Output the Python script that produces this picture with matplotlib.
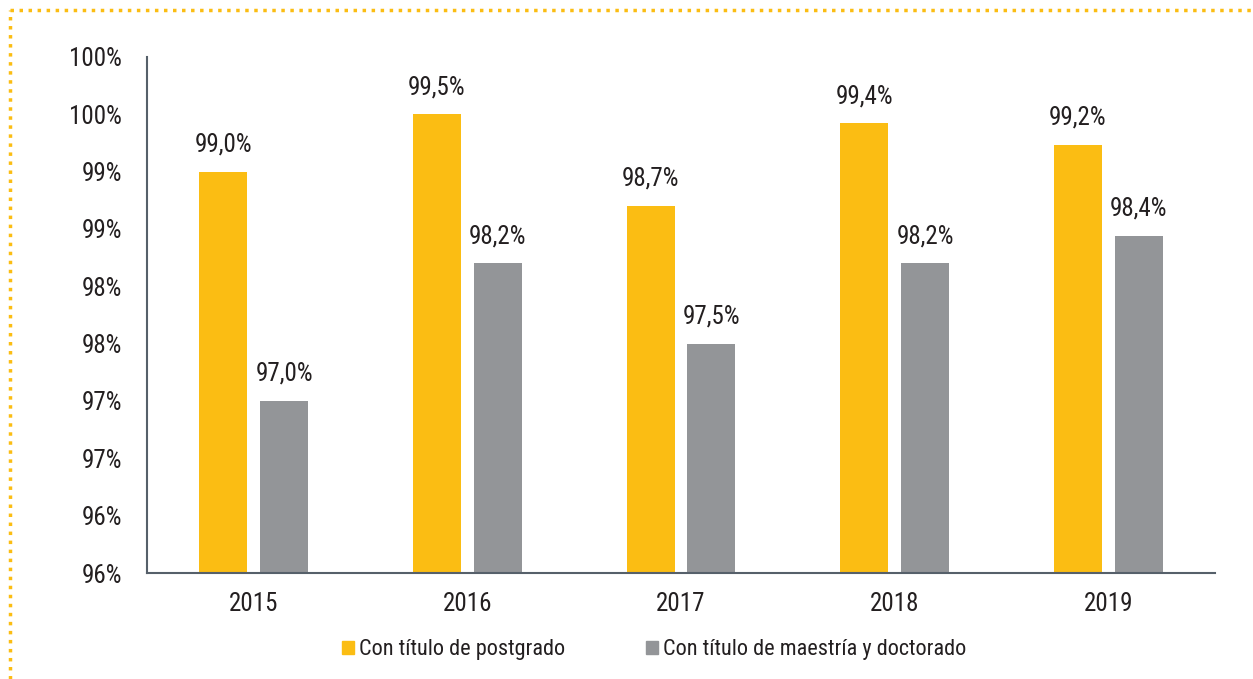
import matplotlib
matplotlib.use("Agg")
import matplotlib.pyplot as plt
from matplotlib import font_manager as fm
from matplotlib.ticker import FixedLocator, FuncFormatter
from matplotlib.lines import Line2D
from matplotlib.patches import Patch
import numpy as np

years = ["2015", "2016", "2017", "2018", "2019"]
postgrado = [99.0, 99.5, 98.7, 99.42, 99.23]
maestria = [97.0, 98.2, 97.5, 98.2, 98.44]
series_names = ["Con título de postgrado", "Con título de maestría y doctorado"]
y_ticks = [95.5, 96.0, 96.5, 97.0, 97.5, 98.0, 98.5, 99.0, 99.5, 100.0]

# pick a condensed font if available
cands = []
for f in fm.fontManager.ttflist:
    n = f.name.lower()
    fn = f.fname.lower()
    cond = ("narrow" in n or "condensed" in n or "narrow" in fn or "condensed" in fn
            or f.stretch in ("condensed", "semi-condensed", 500 - 125))
    if cond and f.style == "normal" and str(f.weight) in ("400", "normal", "regular", "book") \
            and "bold" not in fn and "light" not in fn and "oblique" not in fn and "italic" not in fn \
            and "semi" not in fn and "medium" not in fn and "thin" not in fn and "black" not in fn:
        cands.append(f)
chosen = None
for pref in ["liberationsansnarrow", "robotocondensed", "opensanscondensed", "notosanscondensed", "dejavusanscondensed"]:
    for f in cands:
        if pref in f.fname.lower().replace("-", "").replace("_", "").replace(" ", ""):
            chosen = f
            break
    if chosen:
        break
if chosen is None and cands:
    chosen = cands[0]
if chosen is not None:
    fm.fontManager.addfont(chosen.fname)
    fam = fm.FontProperties(fname=chosen.fname).get_name()
    plt.rcParams['font.family'] = [fam, 'DejaVu Sans']
    FP = fm.FontProperties(fname=chosen.fname, size=18)
    FPL = fm.FontProperties(fname=chosen.fname, size=16)
else:
    plt.rcParams['font.family'] = ['DejaVu Sans']
    FP = fm.FontProperties(family='DejaVu Sans', size=16)
    FPL = fm.FontProperties(family='DejaVu Sans', size=13)

YELLOW = "#FBBD13"
GRAY = "#939598"
TEXT = "#231F20"
AXC = "#56606A"

fig = plt.figure(figsize=(12.53, 6.79), dpi=100)
ax = fig.add_axes([0.1173, 0.1561, 0.8524, 0.76])

x = np.arange(len(years))
w = 0.225
off = (w + 0.06) / 2
ax.bar(x - off, postgrado, width=w, color=YELLOW)
ax.bar(x + off, maestria, width=w, color=GRAY)

for xs, vals in ((x - off, postgrado), (x + off, maestria)):
    for xi, v in zip(xs, vals):
        ax.annotate(f"{v:.1f}%".replace(".", ","), (xi, v), xytext=(0, 11), textcoords="offset points",
                    ha="center", va="bottom", color=TEXT, fontproperties=FP)

ax.set_xlim(-0.5, len(years) - 0.5)
ax.set_ylim(95.5, 100.0)
ax.yaxis.set_major_locator(FixedLocator(y_ticks))
ax.yaxis.set_major_formatter(FuncFormatter(lambda v, p: f"{int(np.floor(v + 0.5))}%"))
ax.set_xticks(x)
ax.set_xticklabels(years)
ax.tick_params(axis="both", length=0, colors=TEXT)
for lab in ax.get_xticklabels() + ax.get_yticklabels():
    lab.set_fontproperties(FP)
ax.tick_params(axis="y", pad=18)
ax.tick_params(axis="x", pad=14)
for s in ["top", "right"]:
    ax.spines[s].set_visible(False)
for s in ["left", "bottom"]:
    ax.spines[s].set_color(AXC)
    ax.spines[s].set_linewidth(1.5)

handles = [Patch(color=YELLOW), Patch(color=GRAY)]
fig.legend(handles, series_names, loc="center", bbox_to_anchor=(0.522, 0.043), ncol=2, frameon=False,
           prop=FPL, handlelength=0.55, handleheight=0.55, handletextpad=0.25,
           columnspacing=3.6, labelcolor=TEXT)

# dotted border
fig.add_artist(Line2D([0.008, 1.0], [0.985, 0.985], transform=fig.transFigure, color=YELLOW,
                      linestyle=(0, (1, 1.6)), linewidth=2.5))
fig.add_artist(Line2D([0.008, 0.008], [0.0, 0.985], transform=fig.transFigure, color=YELLOW,
                      linestyle=(0, (1, 1.6)), linewidth=2.5))

fig.savefig("out.png", dpi=100)
